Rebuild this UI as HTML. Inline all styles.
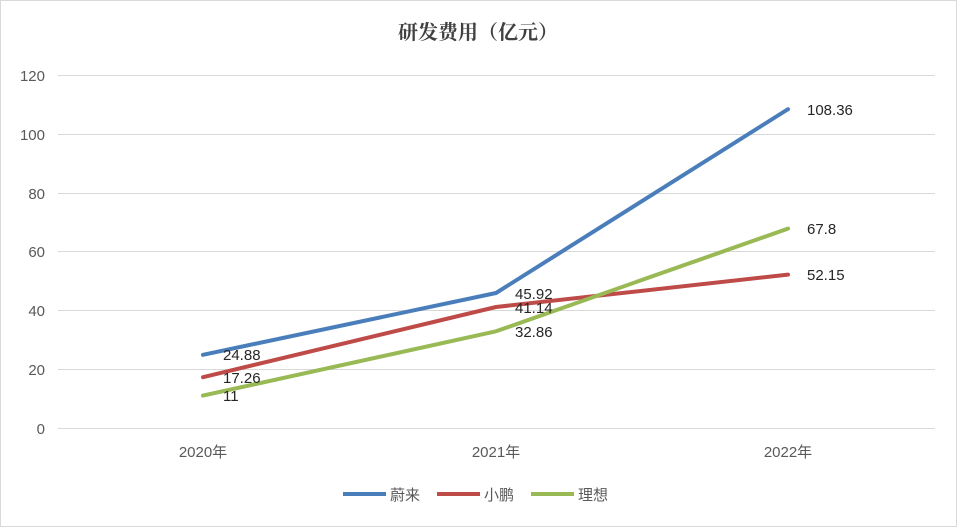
<!DOCTYPE html>
<html><head><meta charset="utf-8"><style>
body{margin:0;background:#fff;}
svg{display:block;font-family:"Liberation Sans","Noto Sans CJK SC",sans-serif;}
</style></head><body>
<svg width="957" height="527" viewBox="0 0 957 527">
<rect x="0.5" y="0.5" width="956" height="526" fill="#fff" stroke="#d9d9d9"/>
<text x="478" y="39" text-anchor="middle" font-size="20" font-weight="bold" fill="#404040" font-family="'Noto Serif CJK SC','Noto Sans CJK SC',serif">研发费用（亿元）</text>
<g stroke="#d9d9d9" stroke-width="1">
<line x1="58" x2="935" y1="75.5" y2="75.5"/>
<line x1="58" x2="935" y1="134.5" y2="134.5"/>
<line x1="58" x2="935" y1="193.5" y2="193.5"/>
<line x1="58" x2="935" y1="251.5" y2="251.5"/>
<line x1="58" x2="935" y1="310.5" y2="310.5"/>
<line x1="58" x2="935" y1="369.5" y2="369.5"/>
<line x1="58" x2="935" y1="428.5" y2="428.5"/>
</g>
<g font-size="15" fill="#595959" text-anchor="end">
<text x="45" y="81">120</text><text x="45" y="140">100</text><text x="45" y="199">80</text>
<text x="45" y="257">60</text><text x="45" y="316">40</text><text x="45" y="375">20</text><text x="45" y="434">0</text>
</g>
<g font-size="15" fill="#595959" text-anchor="middle">
<text x="203" y="457">2020年</text><text x="496" y="457">2021年</text><text x="788" y="457">2022年</text>
</g>
<g fill="none" stroke-width="4" stroke-linecap="round" stroke-linejoin="round">
<polyline stroke="#4a7ebb" points="203,354.8 496,293 788,109.2"/>
<polyline stroke="#be4b48" points="203,377.2 496,307 788,274.6"/>
<polyline stroke="#98b954" points="203,395.6 496,331.3 788,228.6"/>
</g>
<g font-size="15" fill="#262626">
<text x="223" y="360">24.88</text><text x="223" y="383">17.26</text><text x="223" y="401">11</text>
<text x="515" y="299">45.92</text><text x="515" y="313">41.14</text><text x="515" y="337">32.86</text>
<text x="807" y="115">108.36</text><text x="807" y="234">67.8</text><text x="807" y="280">52.15</text>
</g>
<g font-size="15" fill="#595959">
<line x1="343" x2="386" y1="494" y2="494" stroke="#4a7ebb" stroke-width="4"/>
<text x="390" y="500">蔚来</text>
<line x1="437" x2="480" y1="494" y2="494" stroke="#be4b48" stroke-width="4"/>
<text x="484" y="500">小鹏</text>
<line x1="531" x2="574" y1="494" y2="494" stroke="#98b954" stroke-width="4"/>
<text x="578" y="500">理想</text>
</g>
</svg>
</body></html>
